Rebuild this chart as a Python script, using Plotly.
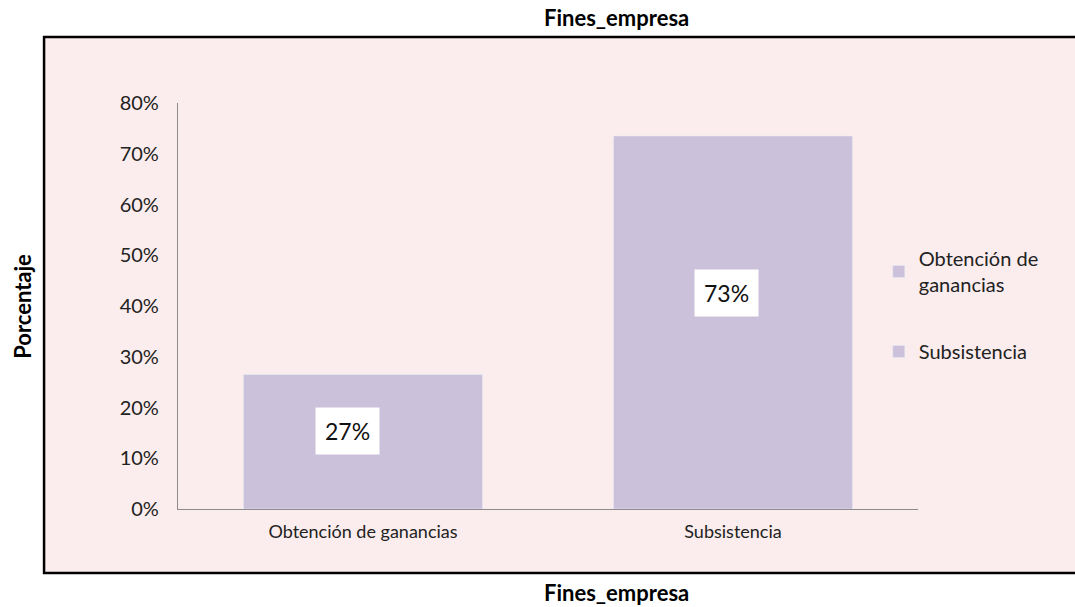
import plotly.graph_objects as go

categories = ["Obtención de ganancias", "Subsistencia"]
legend_names = ["Obtención de<br>ganancias", "Subsistencia"]
values = [0.265, 0.735]
value_labels = ["27%", "73%"]
y_ticks = [0, 0.1, 0.2, 0.3, 0.4, 0.5, 0.6, 0.7, 0.8]
y_tick_labels = ["0%", "10%", "20%", "30%", "40%", "50%", "60%", "70%", "80%"]

BAR = "#CCC1DA"
BG = "#FBEDED"
FONT = "Lato, Calibri, sans-serif"
label_xshift = [-16, -7]

fig = go.Figure()
for i, (cat, name, v) in enumerate(zip(categories, legend_names, values)):
    fig.add_trace(go.Bar(
        x=[cat], y=[v], name=name, marker_color=BAR, width=0.646,
        legendgroup=f"g{i}", hoverinfo="skip",
    ))
    fig.add_annotation(
        x=cat, y=v * 0.58, text=value_labels[i], showarrow=False,
        bgcolor="white", borderpad=9, xshift=label_xshift[i],
        font=dict(family=FONT, size=23, color="#111111"),
    )

# outer pink box with black border
fig.add_shape(type="rect", xref="paper", yref="paper",
              x0=-0.181, x1=1.22, y0=-0.1576, y1=1.1626,
              fillcolor=BG, line=dict(color="black", width=2.5), layer="below")

title_font = dict(family=FONT, size=22, color="black")
fig.add_annotation(xref="paper", yref="paper", x=0.593, y=1.2094, xanchor="center", yanchor="middle",
                   text="<b>Fines_empresa</b>", showarrow=False, font=title_font)
fig.add_annotation(xref="paper", yref="paper", x=0.593, y=-0.2045, xanchor="center", yanchor="middle",
                   text="<b>Fines_empresa</b>", showarrow=False, font=title_font)
fig.add_annotation(xref="paper", yref="paper", x=-0.211, y=0.5, xanchor="center", yanchor="middle",
                   text="<b>Porcentaje</b>", textangle=-90, showarrow=False, font=title_font)

fig.update_layout(
    width=1075, height=607,
    margin=dict(l=178, r=157, t=103, b=98),
    paper_bgcolor="white", plot_bgcolor="rgba(0,0,0,0)",
    barmode="overlay", showlegend=True,
    legend=dict(x=0.947, y=0.665, xanchor="left", yanchor="top",
                bgcolor="rgba(0,0,0,0)", traceorder="grouped", tracegroupgap=38,
                font=dict(family=FONT, size=20, color="#222222"),
                itemwidth=30),
    font=dict(family=FONT),
)
fig.update_xaxes(showline=True, linecolor="#8c8c8c", linewidth=1.2, ticks="",
                 tickfont=dict(family=FONT, size=18, color="#222222"), showgrid=False,
                 ticklabelstandoff=6)
fig.update_yaxes(range=[0, 0.8], tickvals=y_ticks, ticktext=y_tick_labels,
                 showline=True, linecolor="#8c8c8c", linewidth=1.2, ticks="",
                 showgrid=False, zeroline=False, ticklabelstandoff=14,
                 tickfont=dict(family=FONT, size=20, color="#222222"))

fig.write_html("out.html", config={"displayModeBar": False},
               post_script="document.body.style.margin='0';")
